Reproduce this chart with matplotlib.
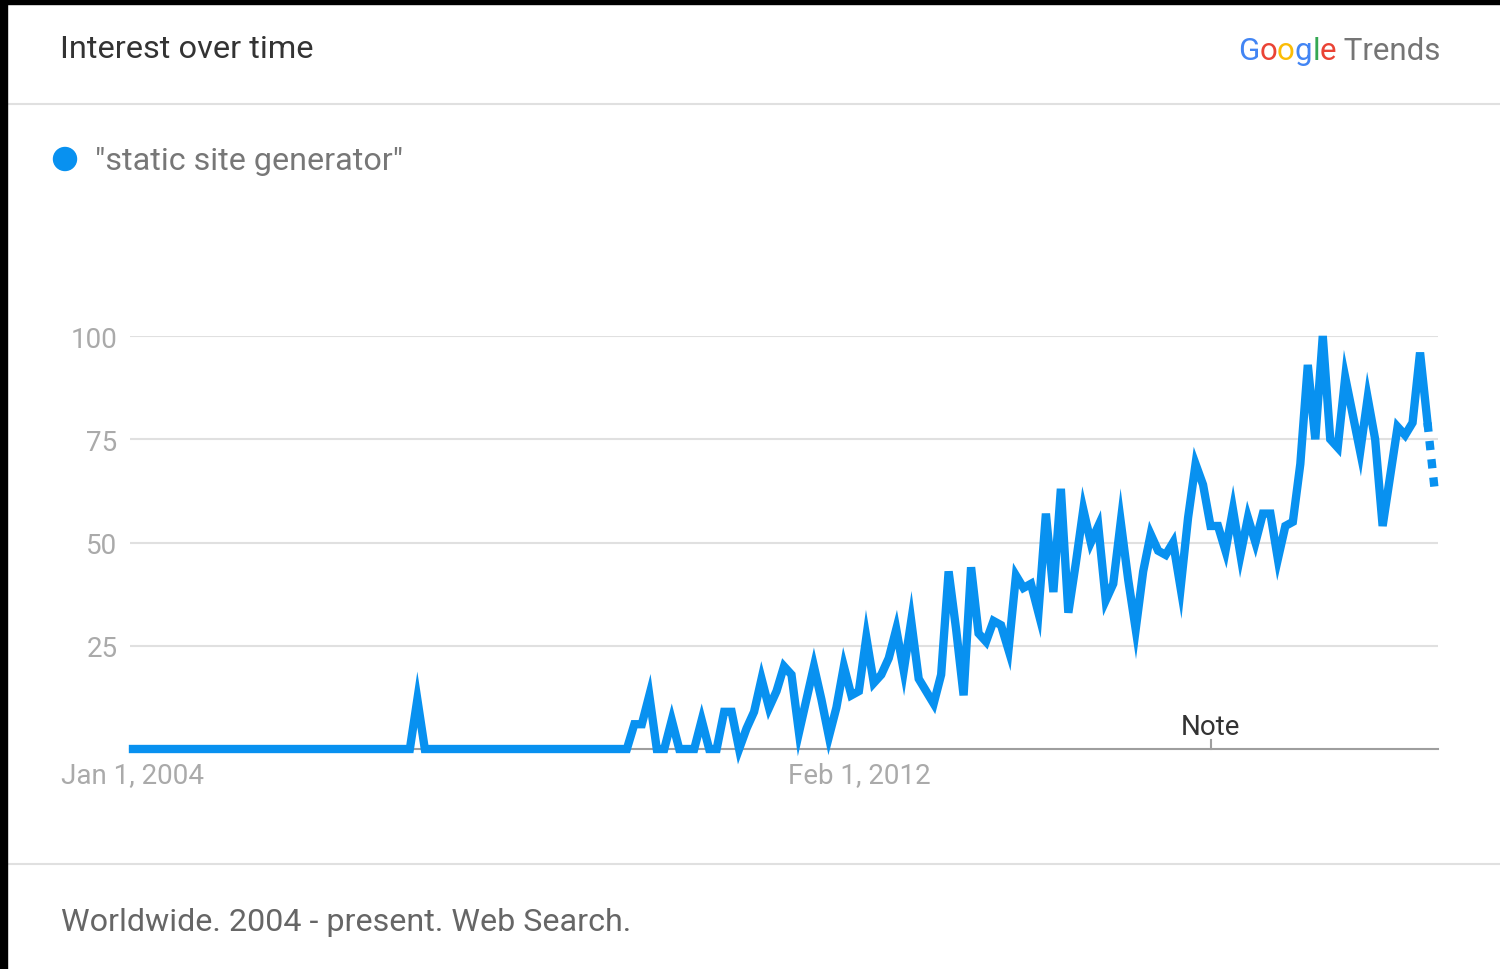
import matplotlib
matplotlib.use('Agg')
import matplotlib.pyplot as plt
from matplotlib.patches import Rectangle, Circle

plt.rcParams['font.family'] = ['Roboto', 'DejaVu Sans']

# monthly interest, Jan 2004 .. Jul 2018 (last month partial)
interest = ([0] * 38 + [12] + [0] * 28 +
            [6, 6, 13, 0, 0, 7, 0, 0, 0, 7, 0, 0, 9, 9, 0, 5, 9,
             17, 10, 14, 20, 18, 4, 12, 20, 12, 3, 10, 20, 13, 14,
             27, 16, 18, 22, 29, 19, 31, 17, 14, 11, 18, 43, 29, 13,
             44, 28, 26, 31, 30, 24, 42, 39, 40, 33, 57, 38, 63, 33,
             45, 58, 50, 54, 36, 40, 55, 41, 29, 43, 52, 48, 47, 50,
             39, 56, 69, 64, 54, 54, 48, 58, 47, 56, 50, 57, 57, 46,
             54, 55, 69, 93, 75, 100, 75, 73, 90, 81, 72, 85, 75, 54,
             66, 78, 76, 79, 96, 79, 62])
months = list(range(len(interest)))
xtick_pos = [0, 97]
xtick_labels = ['Jan 1, 2004', 'Feb 1, 2012']
ytick_pos = [25, 50, 75, 100]
note_month = 144

blue = '#0891f0'
W, H = 1500, 970
fig = plt.figure(figsize=(W / 100, H / 100), dpi=100)

# background layer in pixel coordinates
bg = fig.add_axes([0, 0, 1, 1])
bg.set_xlim(0, W)
bg.set_ylim(H, 0)
bg.axis('off')
bg.plot([7, W], [105, 105], color='#e0e0e0', lw=1.5, solid_capstyle='butt')
bg.plot([7, W], [865, 865], color='#e0e0e0', lw=1.5, solid_capstyle='butt')
bg.add_patch(Rectangle((0, 0), W, 5, color='black', zorder=5))
bg.add_patch(Rectangle((0, 0), 7, H, color='black', zorder=5))
bg.text(60, 50, 'Interest over time', fontsize=23.4, color='#333333',
        va='center', ha='left')
bg.text(61, 923, 'Worldwide. 2004 - present. Web Search.', fontsize=23.2,
        color='#666666', va='center', ha='left')
bg.add_patch(Circle((65, 160), 11.5, color=blue))
bg.text(95, 162, '"static site generator"', fontsize=23.2, color='#777777',
        va='center', ha='left')

# Google Trends logo
letters = ['G', 'o', 'o', 'g', 'l', 'e']
lcolors = ['#4285F4', '#EA4335', '#FBBC05', '#4285F4', '#34A853', '#EA4335']
t = bg.text(1238, 51, letters[0], color=lcolors[0], fontsize=22.5,
            va='center', ha='left')
for ch, c in zip(letters[1:], lcolors[1:]):
    t = bg.annotate(ch, xy=(1, 0), xycoords=t, color=c, fontsize=22.5,
                    va='bottom', ha='left')
bg.annotate(' Trends', xy=(1, 0), xycoords=t, color='#757575', fontsize=22.5,
            va='bottom', ha='left')

# main chart
left, right, top, bottom = 130, 1438, 337, 750
ax = fig.add_axes([left / W, (H - bottom) / H, (right - left) / W,
                   (bottom - top) / H])
ax.patch.set_alpha(0)
ax.set_xlim(-0.4, 174.4)
ax.set_ylim(0, 100)
for s in ['top', 'right', 'left']:
    ax.spines[s].set_visible(False)
ax.spines['bottom'].set_color('#9e9e9e')
ax.spines['bottom'].set_linewidth(1.5)
ax.set_yticks(ytick_pos)
ax.set_yticklabels([str(v) for v in ytick_pos])
ax.set_xticks(xtick_pos)
ax.set_xticklabels(xtick_labels)
ax.tick_params(axis='both', length=0, labelsize=20, labelcolor='#aaaaaa')
ax.tick_params(axis='y', pad=9)
ax.tick_params(axis='x', pad=9)
ax.grid(axis='y', color='#e0e0e0', lw=1.5)
ax.set_axisbelow(True)

ax.plot(months[:-1], interest[:-1], color=blue, lw=6, solid_joinstyle='miter',
        clip_on=False, zorder=3)
ax.plot(months[-2:], interest[-2:], color=blue, lw=6,
        linestyle=(0, (1.1, 1.1)), dash_capstyle='butt', clip_on=False, zorder=3)

# note marker
ax.plot([note_month, note_month], [0, 2.3], color='#9e9e9e', lw=1.5,
        clip_on=False)
ax.text(note_month, 2.3, 'Note', ha='center', va='bottom', fontsize=20,
        color='#333333')

fig.savefig('out.png', dpi=100)
